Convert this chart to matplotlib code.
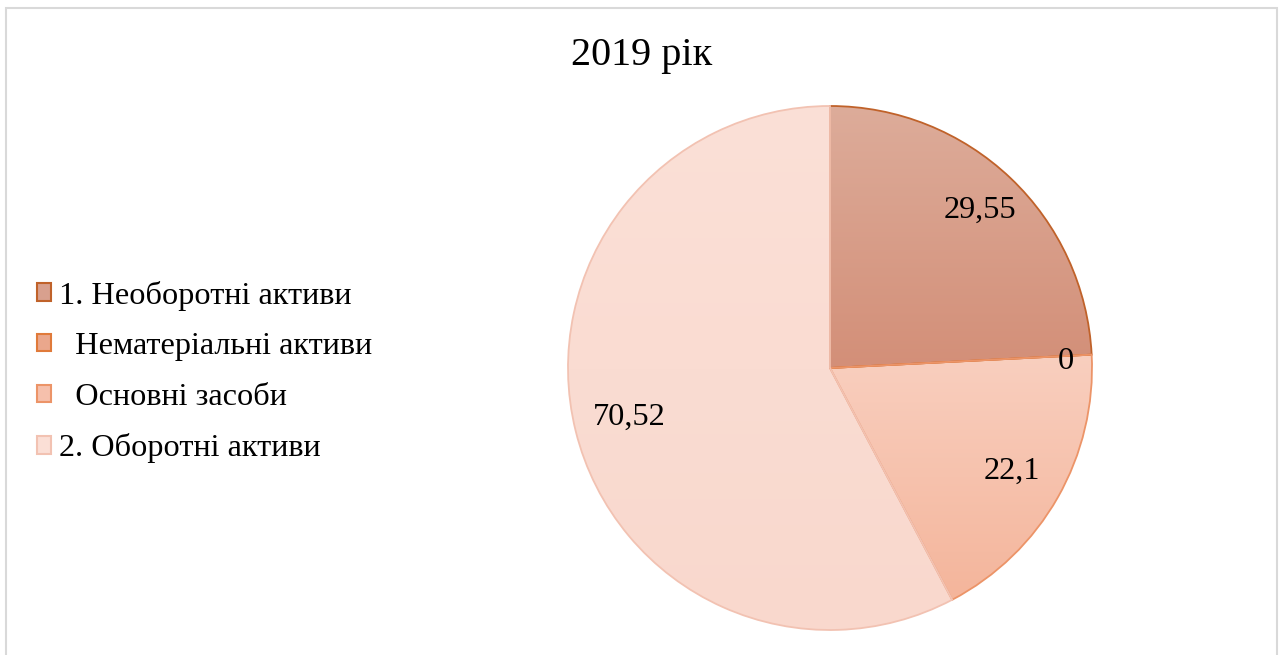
import numpy as np
import matplotlib
matplotlib.use("Agg")
import matplotlib.pyplot as plt
from matplotlib.patches import Patch, Rectangle
from matplotlib.colors import LinearSegmentedColormap

title = "2019 рік"
categories = ["1. Необоротні активи", "  Нематеріальні активи", "  Основні засоби", "2. Оборотні активи"]
values = [29.55, 0, 22.1, 70.52]
value_labels = ["29,55", "0", "22,1", "70,52"]

grad_top = ["#ddac9a", "#eba98e", "#f9cfbf", "#fbe0d7"]
grad_bot = ["#d38f78", "#e59a7c", "#f4b59b", "#f9d8cd"]
edge_cols = ["#c0622a", "#e07a3a", "#ec9468", "#f2c2b2"]
legend_fill = ["#d8a08e", "#eaa78c", "#f6c0ac", "#fbdfd6"]

plt.rcParams['font.family'] = ['Liberation Serif', 'DejaVu Serif']

W, H = 1283, 655
fig = plt.figure(figsize=(W / 100, H / 100), dpi=100)

cx, cy, R = 830, 368, 262
ax = fig.add_axes([(cx - R) / W, 1 - (cy + R) / H, 2 * R / W, 2 * R / H])
ax.set_xlim(-1, 1)
ax.set_ylim(-1, 1)
ax.set_aspect('equal')
ax.axis('off')

wedges, _ = ax.pie(values, startangle=90, counterclock=False, radius=1.0,
                   colors=grad_bot, wedgeprops=dict(linewidth=1.3))

for i, w in enumerate(wedges):
    w.set_edgecolor(edge_cols[i])
    w.set_facecolor('none')
    w.set_zorder(3)
    if values[i] == 0:
        continue
    pts = w.get_patch_transform().transform(w.get_path().vertices)
    y0, y1 = pts[:, 1].min(), pts[:, 1].max()
    cmap = LinearSegmentedColormap.from_list("g%d" % i, [grad_bot[i], grad_top[i]])
    grad = np.linspace(0, 1, 256).reshape(-1, 1)
    im = ax.imshow(grad, extent=[-1, 1, y0, y1], origin='lower', cmap=cmap,
                   aspect='auto', zorder=2, interpolation='bilinear')
    im.set_clip_path(w)

ax.set_xlim(-1, 1)
ax.set_ylim(-1, 1)

dists = [0.83, 0.9, 0.8, 0.79]
for i, w in enumerate(wedges):
    ang = np.deg2rad((w.theta1 + w.theta2) / 2)
    d = dists[i]
    x, y = d * np.cos(ang), d * np.sin(ang)
    if values[i] == 0:
        y -= 0.02
    ax.text(x, y, value_labels[i], ha='center', va='center', fontsize=23.3, zorder=5)

fig.text(642 / W, 1 - 55 / H, title, ha='center', va='center', fontsize=29)

handles = [Patch(facecolor=legend_fill[i], edgecolor=edge_cols[i], linewidth=1.5)
           for i in range(len(categories))]
leg = fig.legend(handles, categories, loc='center left',
                 bbox_to_anchor=(24 / W, 1 - 372 / H), frameon=False, fontsize=23.2,
                 handlelength=0.45, handleheight=0.45, handletextpad=0.25,
                 labelspacing=0.67, borderaxespad=0)

fig.add_artist(Rectangle((6 / W, -0.05), (1277 - 6) / W, 1 - 8 / H + 0.05,
                         transform=fig.transFigure, fill=False,
                         edgecolor='#d9d9d9', linewidth=1.5))

fig.savefig("out.png", dpi=100)
